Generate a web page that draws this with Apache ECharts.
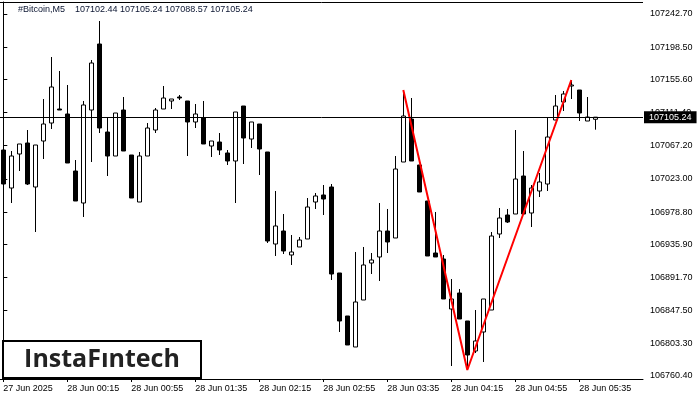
<!DOCTYPE html>
<html>
<head>
<meta charset="utf-8">
<script src="https://cdn.jsdelivr.net/npm/echarts@6/dist/echarts.min.js"></script>
<style>
html,body{margin:0;padding:0;background:#fff;}
#chart{width:700px;height:400px;}
</style>
</head>
<body>
<div id="chart"></div>
<script>
// ---- data ----
const opens = [107061.50,107010.87,107056.18,107070.83,107012.21,107073.49,107097.47,107116.13,107109.47,107033.52,
106990.89,107114.79,107202.73,107085.48,107053.51,107114.79,107054.84,106992.22,107053.51,107088.15,
107116.13,107126.79,107132.11,107126.79,107098.81,107104.14,107066.83,107072.16,107057.51,107046.85,
107120.12,107076.16,107096.14,107058.84,106936.26,106953.58,106921.61,106932.27,106942.93,106992.22,
107001.55,107012.21,106897.63,106840.34,106799.04,106861.65,106910.95,106918.95,106953.58,106944.26,
107045.51,107102.80,107041.52,106993.55,106924.27,106916.28,106849.66,106870.98,106833.68,106793.71,
106819.02,106848.33,106949.59,106974.90,106976.23,107026.86,106977.57,107006.88,107016.20,107101.47,
107125.45,107146.77,107141.44,107100.14,107102.44];
const closes = [107016.20,107053.51,107069.50,107016.20,107068.16,107096.14,107145.44,107114.79,107044.18,106993.55,
107121.46,107177.41,107090.81,107053.51,107110.80,107060.17,106997.55,107053.51,107090.81,107114.79,
107130.78,107129.45,107130.78,107098.81,107109.47,107069.50,107073.49,107061.50,107046.85,107112.13,
107077.49,107098.81,107062.83,106940.26,106960.25,106926.94,106925.61,106941.59,106985.56,107000.22,
106996.22,106896.29,106833.68,106801.70,106858.99,106908.29,106914.95,106953.58,106938.93,107036.19,
107106.80,107046.85,107005.54,106920.28,106918.95,106862.99,106862.99,106836.34,106788.38,106807.03,
106862.99,106946.92,106970.90,106965.57,107022.86,106976.23,107010.87,107018.87,107078.82,107120.12,
107136.11,107148.10,107110.80,107105.47,107105.24];
const lows = [106953.58,106990.89,107033.52,107014.87,106952.25,107049.51,107089.48,107114.79,107044.18,106993.55,
106972.24,107045.51,107084.15,107026.86,107053.51,107060.17,106997.55,106992.22,107053.51,107084.15,
107116.13,107116.13,107128.12,107053.51,107090.81,107069.50,107052.18,107054.84,107041.52,106990.89,
107042.85,107064.17,107028.19,106937.60,106920.28,106922.94,106908.29,106932.27,106942.93,106982.90,
106974.90,106888.30,106819.02,106801.70,106799.04,106861.65,106896.29,106886.97,106924.27,106944.26,
107045.51,107046.85,107005.54,106920.28,106918.95,106862.99,106773.72,106836.34,106768.39,106791.04,
106779.05,106848.33,106944.26,106964.24,106976.23,106976.23,106958.91,106998.88,107006.88,107101.47,
107113.46,107129.45,107100.14,107100.14,107088.57];
const highs = [107258.60,107060.17,107069.50,107088.15,107068.16,107129.45,107185.41,107166.76,107148.10,107048.18,
107126.79,107181.41,107233.37,107105.47,107110.80,107132.11,107054.84,107058.84,107097.47,107117.46,
107146.77,107129.45,107134.78,107126.79,107122.79,107126.79,107073.49,107084.15,107061.50,107112.13,
107120.12,107098.81,107096.14,107058.84,107006.88,106976.23,106948.25,106945.59,106997.55,107004.21,
107014.87,107016.20,106897.63,106840.34,106925.61,106932.27,106924.27,106990.89,106982.90,107053.51,
107141.44,107130.78,107041.52,106993.55,106978.90,106921.61,106889.63,106876.31,106833.68,106848.33,
106862.99,106952.25,106984.23,106982.90,107088.15,107060.17,107014.87,107030.86,107105.47,107134.78,
107140.11,107154.76,107141.44,107132.11,107105.24];

const xTickIndex = [0,8,16,24,32,40,48,56,64,72];
const xTickLabels = ['27 Jun 2025','28 Jun 00:15','28 Jun 00:55','28 Jun 01:35','28 Jun 02:15',
  '28 Jun 02:55','28 Jun 03:35','28 Jun 04:15','28 Jun 04:55','28 Jun 05:35'];
const yTickValues = [106760.40,106803.30,106847.50,106891.70,106935.90,106978.80,
  107023.00,107067.20,107111.40,107155.60,107198.50,107242.70];

const patternIndex = [50,58,71];
const patternPrice = [107141.44,106768.39,107154.76];

const lastPrice = 107105.24;
const headerText = '#Bitcoin,M5    107102.44 107105.24 107088.57 107105.24';
const logoText = 'InstaF\u0131ntech';

// ---- chart ----
const FONT = 'Liberation Sans';
const chart = echarts.init(document.getElementById('chart'), null, {renderer:'canvas'});
const candleData = opens.map((o,i)=>[i,o,closes[i],lows[i],highs[i]]);
const option = {
  animation:false,
  backgroundColor:'#fff',
  grid:{left:0, right:57, top:2, bottom:21, show:false},
  xAxis:{
    type:'value', min:-0.4125, max:79.9625,
    axisLine:{show:true, onZero:false, lineStyle:{color:'#000', width:1}},
    axisTick:{show:true, length:3, customValues:xTickIndex, lineStyle:{color:'#000'}},
    axisLabel:{show:true, customValues:xTickIndex, align:'left', margin:5,
      fontSize:9, fontFamily:FONT, color:'#000',
      formatter:(v)=>{const i=xTickIndex.indexOf(Math.round(v)); return i>=0?xTickLabels[i]:'';}},
    splitLine:{show:false}
  },
  yAxis:{
    type:'value', position:'right', min:106756.40, max:107258.69, scale:true,
    axisLine:{show:true, lineStyle:{color:'#000', width:1}},
    axisTick:{show:true, length:4, customValues:yTickValues, lineStyle:{color:'#000'}},
    axisLabel:{show:true, customValues:yTickValues, margin:7, fontSize:9, fontFamily:FONT, color:'#000',
      formatter:(v)=>v.toFixed(2)},
    splitLine:{show:false}
  },
  series:[
    {
      type:'candlestick',
      data:candleData,
      encode:{x:0, y:[1,2,3,4]},
      barWidth:5,
      clip:true,
      itemStyle:{color:'#fff', color0:'#000', borderColor:'#000', borderColor0:'#000', borderColorDoji:'#000', borderWidth:1},
      emphasis:{disabled:true},
      markLine:{
        silent:true, symbol:'none', animation:false,
        lineStyle:{color:'#000', width:1, type:'solid'},
        label:{show:true, position:'end', distance:1, formatter:lastPrice.toFixed(2),
          color:'#fff', backgroundColor:'#000', padding:[2,5,1,5], fontSize:9, fontFamily:FONT},
        emphasis:{disabled:true},
        data:[{yAxis:lastPrice}]
      },
      z:3
    },
    {
      type:'line',
      data:patternIndex.map((k,i)=>[k,patternPrice[i]]),
      symbol:'none',
      lineStyle:{color:'#ff0000', width:2},
      emphasis:{disabled:true},
      z:4
    }
  ],
  graphic:[
    {type:'line', shape:{x1:0,y1:2.5,x2:643,y2:2.5}, style:{stroke:'#000', lineWidth:1}},
    {type:'text', left:18, top:5, style:{text:headerText, font:'9px "Liberation Sans"', fill:'#0a1430'}},
    {type:'rect', shape:{x:3,y:341,width:198,height:37}, style:{fill:'#fff', stroke:'#000', lineWidth:2}, z:10},
    {type:'text', x:102, y:360, style:{text:logoText, font:'bold 25px "Open Sans"', fill:'#222', align:'center', verticalAlign:'middle'}, z:11}
  ]
};
chart.setOption(option);
</script>
</body>
</html>
